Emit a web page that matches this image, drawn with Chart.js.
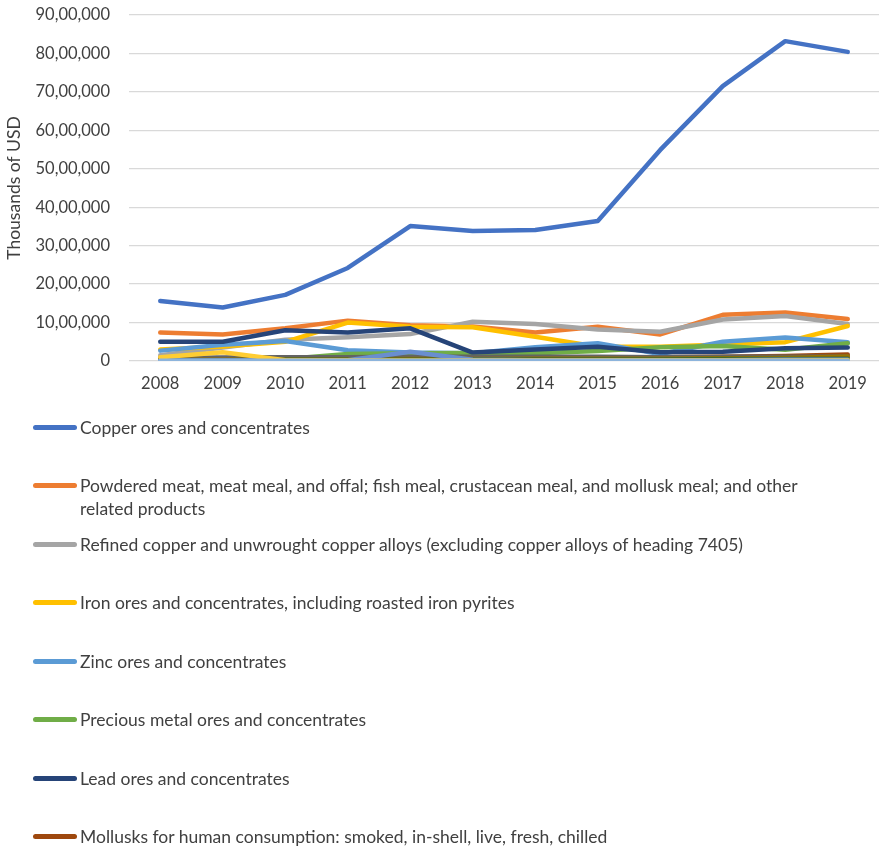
<!DOCTYPE html>
<html>
<head>
<meta charset="utf-8">
<script src="https://cdn.jsdelivr.net/npm/chart.js@4/dist/chart.umd.min.js"></script>
<style>
  html, body { margin: 0; padding: 0; background: #fff; }
  #wrap { position: relative; width: 885px; height: 848px; overflow: hidden; }
  #plot { position: absolute; left: 0; top: 0; width: 885px; height: 400px; }
  #legend { position: absolute; left: 0; top: 0; width: 885px; height: 848px; }
  .item { position: absolute; left: 0; width: 885px; font-family: Lato, sans-serif; font-size: 17.5px; line-height: 23px; color: #404040; }
  .swatch { position: absolute; left: 33px; top: 9px; width: 44px; height: 5px; border-radius: 3px; }
  .text { position: absolute; left: 80px; width: 745px; }
</style>
</head>
<body>
<div id="wrap">
  <div id="plot"><canvas id="trade"></canvas></div>
  <div id="legend"></div>
</div>
<script>
const years = ["2008", "2009", "2010", "2011", "2012", "2013", "2014", "2015", "2016", "2017", "2018", "2019"];

const copperOres = [1560000, 1390000, 1720000, 2420000, 3510000, 3380000, 3410000, 3640000, 5490000, 7150000, 8320000, 8040000];
const powderedMeat = [740000, 690000, 850000, 1050000, 930000, 900000, 740000, 890000, 690000, 1200000, 1260000, 1090000];
const refinedCopper = [150000, 350000, 550000, 620000, 700000, 1020000, 960000, 820000, 760000, 1080000, 1170000, 960000];
const ironOres = [300000, 380000, 500000, 1000000, 890000, 880000, 630000, 370000, 370000, 430000, 490000, 910000];
const zincOres = [270000, 420000, 520000, 280000, 220000, 200000, 360000, 460000, 180000, 500000, 610000, 490000];
const preciousOres = [20000, 30000, 50000, 180000, 200000, 210000, 200000, 260000, 360000, 390000, 290000, 460000];
const leadOres = [500000, 500000, 800000, 740000, 850000, 220000, 300000, 370000, 230000, 240000, 330000, 350000];
const mollusks = [50000, 60000, 70000, 80000, 80000, 90000, 90000, 100000, 100000, 110000, 130000, 170000];

// smaller product lines that sit near the axis
const minorA = [80000, 90000, 100000, 100000, 110000, 110000, 110000, 110000, 100000, 110000, 110000, 120000];
const minorB = [30000, 30000, 40000, 40000, 50000, 50000, 60000, 60000, 60000, 70000, 80000, 120000];
const minorC = [20000, 20000, 30000, 30000, 30000, 40000, 40000, 40000, 40000, 50000, 50000, 60000];
const minorD = [10000, 10000, 20000, 20000, 240000, 30000, 20000, 20000, 20000, 20000, 30000, 30000];
const minorE = [100000, 230000, 20000, 10000, 10000, 10000, 10000, 10000, 10000, 10000, 10000, 20000];
const minorF = [5000, 5000, 5000, 5000, 5000, 5000, 5000, 5000, 5000, 5000, 5000, 5000];

const series = [
  { label: "Copper ores and concentrates", data: copperOres, color: "#4472C4" },
  { label: "Powdered meat, meat meal, and offal; fish meal, crustacean meal, and mollusk meal; and other related products", data: powderedMeat, color: "#ED7D31" },
  { label: "Refined copper and unwrought copper alloys (excluding copper alloys of heading 7405)", data: refinedCopper, color: "#A5A5A5" },
  { label: "Iron ores and concentrates, including roasted iron pyrites", data: ironOres, color: "#FFC000" },
  { label: "Zinc ores and concentrates", data: zincOres, color: "#5B9BD5" },
  { label: "Precious metal ores and concentrates", data: preciousOres, color: "#70AD47" },
  { label: "Lead ores and concentrates", data: leadOres, color: "#264478" },
  { label: "Mollusks for human consumption: smoked, in-shell, live, fresh, chilled", data: mollusks, color: "#9E480E" },
  { label: "", data: minorA, color: "#636363" },
  { label: "", data: minorB, color: "#997300" },
  { label: "", data: minorC, color: "#43682B" },
  { label: "", data: minorD, color: "#698ED0" },
  { label: "", data: minorE, color: "#FFCD33" },
  { label: "", data: minorF, color: "#8DB4DC" }
];

// lakh-style grouping: 90,00,000
function indianFormat(v) {
  const s = String(Math.round(v));
  if (s.length <= 3) return s;
  const rest = s.slice(0, -3);
  return rest.replace(/\B(?=(\d{2})+(?!\d))/g, ",") + "," + s.slice(-3);
}

const tickFont = { family: "Lato, sans-serif", size: 16.5 };

new Chart(document.getElementById("trade"), {
  type: 'line',
  data: {
    labels: years,
    datasets: series.map((s, i) => ({
      label: s.label,
      data: s.data,
      borderColor: s.color,
      backgroundColor: s.color,
      borderWidth: 4.5,
      borderCapStyle: 'round',
      borderJoinStyle: 'round',
      pointRadius: 0,
      tension: 0,
      fill: false,
      order: series.length - i
    }))
  },
  options: {
    responsive: true,
    maintainAspectRatio: false,
    animation: false,
    layout: { padding: { left: 0, right: 6, top: 15, bottom: 0 } },
    plugins: {
      legend: { display: false },
      tooltip: { enabled: false }
    },
    scales: {
      x: {
        offset: true,
        grid: { display: false, drawTicks: false },
        border: { display: false },
        ticks: { color: "#404040", font: tickFont, padding: 13, maxRotation: 0 },
        afterFit: (scale) => { scale.height = 39; }
      },
      y: {
        min: 0,
        max: 9000000,
        grid: { color: "#D9D9D9", lineWidth: 1.3, drawTicks: false },
        border: { display: false },
        ticks: {
          stepSize: 1000000,
          color: "#404040",
          font: tickFont,
          padding: 19,
          callback: (v) => indianFormat(v)
        },
        title: {
          display: true,
          text: "Thousands of USD",
          color: "#404040",
          font: { family: "Lato, sans-serif", size: 17.5 },
          padding: { top: 4, bottom: 0 }
        },
        afterFit: (scale) => {
          scale.width = 129;
          scale.paddingTop = 0;
          scale.paddingBottom = 0;
        }
      }
    }
  }
});

// single-column legend under the plot
const legend = document.getElementById("legend");
series.filter(s => s.label).forEach((s, i) => {
  const item = document.createElement("div");
  item.className = "item";
  item.style.top = (415.5 + i * 58.5) + "px";
  const sw = document.createElement("div");
  sw.className = "swatch";
  sw.style.background = s.color;
  const tx = document.createElement("div");
  tx.className = "text";
  tx.textContent = s.label;
  item.appendChild(sw);
  item.appendChild(tx);
  legend.appendChild(item);
});
</script>
</body>
</html>
